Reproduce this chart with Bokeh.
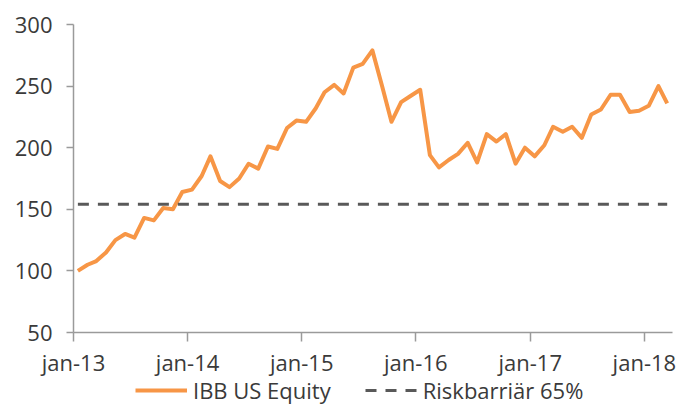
import pandas as pd
from bokeh.plotting import figure
from bokeh.models import (Range1d, FixedTicker, ColumnDataSource, Legend, LegendItem)
from bokeh.embed import file_html
from bokeh.resources import INLINE

# ---- data ----
ibb = [100, 105, 108, 115, 125, 130, 127, 143, 141, 151, 150, 164,
       166, 177, 193, 173, 168, 175, 187, 183, 201, 199, 216, 222,
       221, 232, 245, 251, 244, 265, 268, 279, 250, 221, 237, 242,
       247, 194, 184, 190, 195, 204, 188, 211, 205, 211, 187, 200,
       193, 202, 217, 213, 217, 208, 227, 231, 243, 243, 229, 230,
       234, 250, 236]
dates = pd.date_range("2013-01-01", periods=len(ibb), freq="MS") + pd.Timedelta(days=14)
barrier_level = 154
tick_years = [2013, 2014, 2015, 2016, 2017, 2018]
tick_labels = ["jan-13", "jan-14", "jan-15", "jan-16", "jan-17", "jan-18"]
y_ticks = [50, 100, 150, 200, 250, 300]
y_min, y_max = 50, 300
x_min, x_max = pd.Timestamp("2013-01-01"), pd.Timestamp("2018-04-01")

FONT = "Open Sans"
TXT = "#3a3a3a"
ORANGE = "#F79646"
GREY = "#595959"

# layout (pixels): plot area inside the canvas
W, H = 686, 405
PL, PR, PT, PB = 73, 672, 24, 332

def ms(t):
    return float(t.value // 10**6)

x0, x1 = ms(x_min), ms(x_max)
mpp = (x1 - x0) / (PR - PL)            # ms per pixel
upp = (y_max - y_min) / (PB - PT)      # value units per pixel
xr = Range1d(x0 - PL * mpp, x1 + (W - PR) * mpp)
yr = Range1d(y_min - (H - PB) * upp, y_max + PT * upp)

tick_ms = [ms(pd.Timestamp(f"{y}-01-01")) for y in tick_years]

src = ColumnDataSource(dict(x=dates, ibb=ibb, bar=[barrier_level] * len(ibb)))

p = figure(width=W, height=H, x_axis_type="datetime",
           output_backend="svg", toolbar_location=None,
           x_range=xr, y_range=yr,
           min_border=0)
p.outline_line_color = None
p.grid.visible = False
p.background_fill_color = "white"
p.border_fill_color = "white"

r1 = p.line("x", "ibb", source=src, line_color=ORANGE, line_width=4, line_join="round")
r2 = p.line("x", "bar", source=src, line_color=GREY, line_width=3, line_dash="11 9")

xa = p.xaxis[0]
xa.fixed_location = y_min
xa.bounds = (x0, x1)
xa.ticker = FixedTicker(ticks=tick_ms)
xa.major_label_overrides = {t: lab for t, lab in zip(tick_ms, tick_labels)}
xa.major_tick_out = 9
xa.major_label_standoff = 5

ya = p.yaxis[0]
ya.fixed_location = x0
ya.bounds = (y_min, y_max)
ya.ticker = FixedTicker(ticks=y_ticks)
ya.major_tick_out = 7
ya.major_label_standoff = 14

for ax in (xa, ya):
    ax.major_tick_in = 0
    ax.minor_tick_out = 0
    ax.minor_tick_in = 0
    ax.axis_line_color = "#9a9a9a"
    ax.axis_line_width = 1.5
    ax.major_tick_line_color = "#9a9a9a"
    ax.major_tick_line_width = 1.5
    ax.major_label_text_font = FONT
    ax.major_label_text_font_size = "22px"
    ax.major_label_text_color = TXT

legend = Legend(items=[LegendItem(label="IBB US Equity", renderers=[r1]),
                       LegendItem(label="Riskbarriär 65%", renderers=[r2])],
                orientation="horizontal", location=(135, 0),
                padding=0, margin=0, spacing=34, label_standoff=6,
                glyph_width=52, glyph_height=20,
                border_line_alpha=0, background_fill_alpha=0,
                label_text_font=FONT, label_text_font_size="22px",
                label_text_color=TXT)
p.add_layout(legend, "center")

open("out.html", "w").write(file_html(p, INLINE))
